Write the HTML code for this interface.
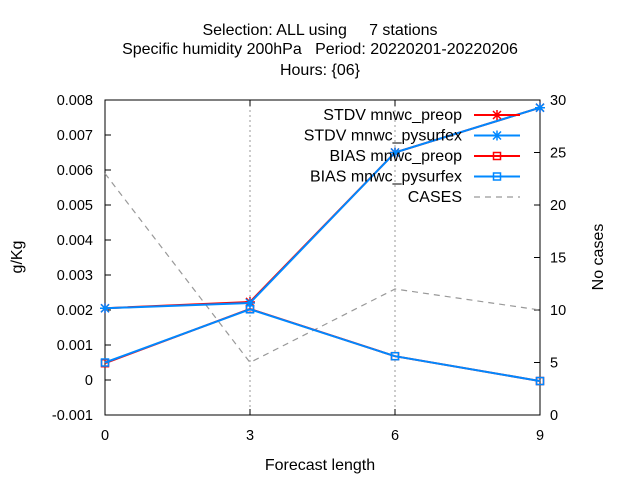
<!DOCTYPE html>
<html><head><meta charset="utf-8"><style>
body{margin:0;background:#fff}
svg text{font-family:"Liberation Sans",sans-serif;font-size:14.5px;fill:#000;white-space:pre}
svg text.big{font-size:16px}
</style></head><body>
<svg id="c" width="640" height="480" xmlns="http://www.w3.org/2000/svg">
<rect width="640" height="480" fill="#fff"/>
<text class="big" x="320" y="35" text-anchor="middle" xml:space="preserve">Selection: ALL using     7 stations</text>
<text class="big" x="320" y="54" text-anchor="middle" xml:space="preserve">Specific humidity 200hPa   Period: 20220201-20220206</text>
<text class="big" x="320" y="75" text-anchor="middle">Hours: {06}</text>
<g id="grid"></g><g id="axes"></g><g id="series"></g><g id="legend"></g>
<text class="big" x="320" y="470" text-anchor="middle">Forecast length</text>
<text class="big" transform="translate(22,257) rotate(-90)" text-anchor="middle">g/Kg</text>
<text class="big" transform="translate(603,257) rotate(-90)" text-anchor="middle">No cases</text>
</svg>
<script>
const xCats=[0,3,6,9];
const yTicks=[-0.001,0,0.001,0.002,0.003,0.004,0.005,0.006,0.007,0.008];
const y2Ticks=[0,5,10,15,20,25,30];
const stdvPreop=[0.00205,0.00223,0.0065,0.00778];
const stdvPysurfex=[0.00205,0.00220,0.0065,0.00778];
const biasPreop=[0.00048,0.00203,0.00068,-0.00003];
const biasPysurfex=[0.00050,0.00202,0.00068,-0.00003];
const cases=[23,5,12,10];
const L=105,R=540,T=100,B=415;
const X=v=>L+(v-0)/9*(R-L);
const Y=v=>B-(v+0.001)/0.009*(B-T);
const Y2=v=>B-v/30*(B-T);
const NS="http://www.w3.org/2000/svg";
function mk(p,t,a){const e=document.createElementNS(NS,t);for(const k in a)e.setAttribute(k,a[k]);document.getElementById(p).appendChild(e);return e;}
xCats.forEach(v=>{
 if(v>0&&v<9){const g=mk('grid','line',{x1:X(v),x2:X(v),y1:T,y2:B,stroke:'#999','stroke-dasharray':'2,3'});
 
 }
 const t=mk('axes','text',{x:X(v),y:B+25,'text-anchor':'middle'});t.textContent=v;
 
 
 mk('axes','line',{x1:X(v),x2:X(v),y1:B,y2:B-6,stroke:'#000'});
 mk('axes','line',{x1:X(v),x2:X(v),y1:T,y2:T+6,stroke:'#000'});
});
yTicks.forEach(v=>{
 const t=mk('axes','text',{x:L-12,y:Y(v)+5,'text-anchor':'end'});t.textContent=v===0?'0':v.toFixed(3);
 
 
 mk('axes','line',{x1:L,x2:L+6,y1:Y(v),y2:Y(v),stroke:'#000'});
});
y2Ticks.forEach(v=>{
 const t=mk('axes','text',{x:R+10,y:Y2(v)+5,'text-anchor':'start'});t.textContent=v;
 
 
 mk('axes','line',{x1:R-6,x2:R,y1:Y2(v),y2:Y2(v),stroke:'#000'});
});
const fr=mk('axes','rect',{x:L,y:T,width:R-L,height:B-T,fill:'none',stroke:'#000'});


function star(g,x,y,c){mk(g,'path',{d:`M${x-4} ${y-4}L${x+4} ${y+4}M${x-4} ${y+4}L${x+4} ${y-4}M${x-5} ${y}L${x+5} ${y}M${x} ${y-5}L${x} ${y+5}`,stroke:c,'stroke-width':1.5});}
function sq(g,x,y,c){mk(g,'rect',{x:x-3.5,y:y-3.5,width:7,height:7,fill:'none',stroke:c,'stroke-width':1.5});}
function series(vals,c,m,name){
 const p=mk('series','polyline',{points:vals.map((v,i)=>X(xCats[i])+','+Y(v)).join(' '),fill:'none',stroke:c,'stroke-width':2});
 
 
 vals.forEach((v,i)=>m('series',X(xCats[i]),Y(v),c));
}
const cs=mk('series','polyline',{points:cases.map((v,i)=>X(xCats[i])+','+Y2(v)).join(' '),fill:'none',stroke:'#999','stroke-width':1.2,'stroke-dasharray':'6,5'});


series(stdvPreop,'#f00',star,'stdv-preop-line');
series(biasPreop,'#f00',sq,'bias-preop-line');
series(stdvPysurfex,'#08f',star,'stdv-pysurfex-line');
series(biasPysurfex,'#08f',sq,'bias-pysurfex-line');
const leg=[['STDV mnwc_preop','#f00',star],['STDV mnwc_pysurfex','#08f',star],['BIAS mnwc_preop','#f00',sq],['BIAS mnwc_pysurfex','#08f',sq],['CASES','#999',null]];
leg.forEach((e,i)=>{
 const y=115+i*20.5;
 const t=mk('legend','text',{x:462,y:y+5,'text-anchor':'end',class:'big'});t.textContent=e[0];
 
 
 if(e[2]){mk('legend','line',{x1:474,x2:520,y1:y,y2:y,stroke:e[1],'stroke-width':2});e[2]('legend',497,y,e[1]);}
 else mk('legend','line',{x1:474,x2:520,y1:y,y2:y,stroke:e[1],'stroke-width':1.2,'stroke-dasharray':'6,5'});
});
</script>
</body></html>
